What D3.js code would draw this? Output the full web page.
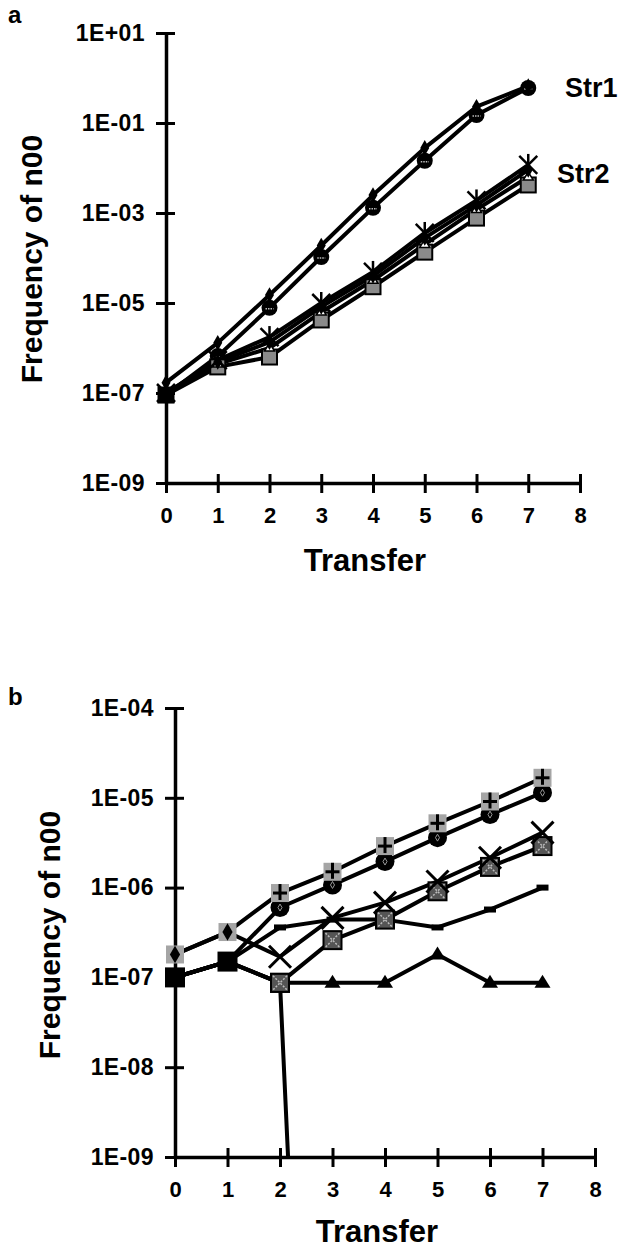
<!DOCTYPE html>
<html>
<head>
<meta charset="utf-8">
<script src="https://cdn.jsdelivr.net/npm/d3@7"></script>
<style>
body { margin: 0; background: #fff; }
text { font-family: "Liberation Sans", Arial, sans-serif; font-weight: bold; fill: #000; }
</style>
</head>
<body>
<svg id="fig" width="622" height="1256"></svg>
<script>
"use strict";

const transfers = [0, 1, 2, 3, 4, 5, 6, 7];
const xTickLabels = ["0", "1", "2", "3", "4", "5", "6", "7", "8"];
const yTicksA = ["1E+01", "1E-01", "1E-03", "1E-05", "1E-07", "1E-09"];
const yTicksB = ["1E-04", "1E-05", "1E-06", "1E-07", "1E-08", "1E-09"];

// panel a: Str1 (two lines), Str2 (four lines)
const str1Upper = [1.7e-7, 1.3e-6, 1.5e-5, 1.9e-4, 2.5e-3, 2.8e-2, 0.23, 0.66];
const str1Lower = [9e-8, 6.6e-7, 7.8e-6, 1.05e-4, 1.3e-3, 1.45e-2, 0.15, 0.6];
const str2Star = [1e-7, 5.4e-7, 1.75e-6, 1e-5, 4.9e-5, 3.6e-4, 1.9e-3, 1.17e-2];
const str2Diamond = [1e-7, 4.9e-7, 1.35e-6, 8.2e-6, 4e-5, 2.8e-4, 1.5e-3, 9.1e-3];
const str2Triangle = [1e-7, 4.4e-7, 1e-6, 6.3e-6, 3.2e-5, 2e-4, 1.2e-3, 6.3e-3];
const str2Square = [9e-8, 3.8e-7, 6.3e-7, 4.2e-6, 2.3e-5, 1.35e-4, 7.7e-4, 4.2e-3];

// panel b
const bPlus = [1.8e-7, 3.2e-7, 8.7e-7, 1.5e-6, 2.9e-6, 5.2e-6, 9.1e-6, 1.67e-5];
const bCircle = [1e-7, 1.5e-7, 6e-7, 1.07e-6, 1.95e-6, 3.6e-6, 6.5e-6, 1.14e-5];
const bCross = [1.8e-7, 3.2e-7, 1.7e-7, 4.6e-7, 6.8e-7, 1.17e-6, 2.15e-6, 4.1e-6];
const bCrossSquare = [1e-7, 1.5e-7, 8.7e-8, 2.6e-7, 4.4e-7, 9.1e-7, 1.7e-6, 2.9e-6];
const bDash = [1e-7, 1.5e-7, 3.6e-7, 4.4e-7, 4.4e-7, 3.6e-7, 5.7e-7, 1e-6];
const bTriangle = [1e-7, 1.5e-7, 8.7e-8, 8.7e-8, 8.7e-8, 1.8e-7, 8.7e-8, 8.7e-8];
const bLost = [1e-7, 1.5e-7, 8.7e-8, 2e-20, null, null, null, null];

const svg = d3.select("#fig");

function drawMarker(g, type, i) {
	if (type === "diamond") {
		g.append("path").attr("d", d3.symbol(d3.symbolDiamond, 70)()).attr("fill", "#000");
	} else if (type === "circle") {
		g.append("circle").attr("r", 8).attr("fill", "#000");
		g.append("line").attr("x1", -4).attr("x2", 4).attr("y1", 1).attr("y2", 1)
			.attr("stroke", "#bbb").attr("stroke-width", 1.5).attr("stroke-dasharray", "1.5 1");
	} else if (type === "asterisk") {
		[[-9, -9, 9, 9], [9, -9, -9, 9], [0, -11, 0, 0]].forEach(l => {
			g.append("line").attr("x1", l[0]).attr("y1", l[1]).attr("x2", l[2]).attr("y2", l[3])
				.attr("stroke", "#000").attr("stroke-width", 2.5);
		});
	} else if (type === "squareGray") {
		// first point sits under the pile-up at 1E-07 and prints black
		g.append("rect").attr("x", -7.5).attr("y", -7.5).attr("width", 15).attr("height", 15)
			.attr("fill", i === 0 ? "#000" : "#8a8a8a").attr("stroke", "#000").attr("stroke-width", 2);
	} else if (type === "triangleWhite") {
		if (i === 0) return;
		g.append("path").attr("d", "M0,-5L5,3L-5,3Z").attr("fill", "#fff").attr("stroke", "#000").attr("stroke-width", 1.5);
	} else if (type === "plusSquare") {
		g.append("rect").attr("x", -9).attr("y", -9).attr("width", 18).attr("height", 18).attr("fill", "#a5a5a5");
		if (i < 2) {
			g.append("path").attr("d", d3.symbol(d3.symbolDiamond, 90)()).attr("fill", "#000");
			return;
		}
		g.append("line").attr("x1", -7).attr("x2", 7).attr("stroke", "#000").attr("stroke-width", 3);
		g.append("line").attr("y1", -9).attr("y2", 7).attr("stroke", "#000").attr("stroke-width", 3);
	} else if (type === "circleBig") {
		if (i < 2) return;
		g.append("circle").attr("r", 9.5).attr("fill", "#000");
		g.append("path").attr("d", d3.symbol(d3.symbolDiamond, 14)()).attr("fill", "none").attr("stroke", "#999");
	} else if (type === "cross") {
		if (i < 2) return;
		[[-11, -11, 11, 11], [11, -11, -11, 11]].forEach(l => {
			g.append("line").attr("x1", l[0]).attr("y1", l[1]).attr("x2", l[2]).attr("y2", l[3])
				.attr("stroke", "#000").attr("stroke-width", 3);
		});
	} else if (type === "crossSquare") {
		if (i < 2) return;
		g.append("rect").attr("x", -9).attr("y", -9).attr("width", 18).attr("height", 18)
			.attr("fill", "#555").attr("stroke", "#000").attr("stroke-width", 2);
		[[-7, -7, 7, 7], [7, -7, -7, 7]].forEach(l => {
			g.append("line").attr("x1", l[0]).attr("y1", l[1]).attr("x2", l[2]).attr("y2", l[3])
				.attr("stroke", "#bbb").attr("stroke-width", 1.5).attr("stroke-dasharray", "2 1.5");
		});
	} else if (type === "dash") {
		if (i < 2) return;
		g.append("rect").attr("x", -6).attr("y", -3).attr("width", 12).attr("height", 6).attr("fill", "#000");
	} else if (type === "triangleBlack") {
		if (i < 2) return;
		g.append("path").attr("d", "M0,-8L8,5L-8,5Z").attr("fill", "#000");
	} else if (type === "squareBlack") {
		g.append("rect").attr("x", -10).attr("y", -10).attr("width", 20).attr("height", 20).attr("fill", "#000");
	}
}

function panel(opt) {
	const x = d3.scaleLinear().domain([0, 8]).range(opt.xRange);
	const y = d3.scaleLog().domain(opt.yDomain).range(opt.yRange);
	const g = svg.append("g");

	// axes
	const yAxis = d3.axisLeft(y)
		.tickValues(opt.yTicks.map(Number))
		.tickFormat((d, i) => opt.yTicks[i])
		.tickSizeInner(10).tickSizeOuter(0);
	const ya = g.append("g").attr("transform", `translate(${opt.xRange[0]},0)`).call(yAxis);
	ya.select(".domain").attr("stroke-width", 3.5);
	ya.selectAll(".tick line").attr("x1", 9).attr("stroke-width", 3);
	ya.selectAll(".tick text").attr("font-size", 23).attr("font-family", null)
		.attr("letter-spacing", 0.4).attr("x", -21);

	const xAxis = d3.axisBottom(x)
		.tickValues(d3.range(9))
		.tickFormat((d, i) => xTickLabels[i])
		.tickSizeInner(10).tickSizeOuter(0);
	const xa = g.append("g").attr("transform", `translate(0,${opt.yRange[0]})`).call(xAxis);
	xa.select(".domain").attr("stroke-width", 3.5);
	xa.selectAll(".tick line").attr("y1", -9).attr("stroke-width", 3);
	xa.selectAll(".tick text").attr("font-size", 22).attr("font-family", null)
		.attr("dy", null).attr("y", 40);

	// lines
	const clipId = "clip" + opt.id;
	g.append("clipPath").attr("id", clipId).append("rect")
		.attr("x", opt.xRange[0]).attr("y", opt.yRange[1] - 30)
		.attr("width", opt.xRange[1] - opt.xRange[0] + 30)
		.attr("height", opt.yRange[0] - opt.yRange[1] + 30);
	const line = d3.line()
		.defined(d => d.v != null)
		.x(d => x(d.t))
		.y(d => y(d.v));
	const lg = g.append("g").attr("clip-path", `url(#${clipId})`);
	opt.series.forEach(s => {
		lg.append("path")
			.datum(transfers.map((t, i) => ({ t: t, v: s.values[i] })))
			.attr("d", line)
			.attr("fill", "none")
			.attr("stroke", "#000")
			.attr("stroke-width", 4)
			.attr("stroke-linejoin", "round");
	});

	// markers
	opt.series.forEach(s => {
		transfers.forEach((t, i) => {
			const v = s.values[i];
			if (v == null || v < opt.yDomain[0]) return;
			const mg = g.append("g").attr("transform", `translate(${x(t)},${y(v)})`);
			drawMarker(mg, s.marker, i);
		});
	});

	// labels
	svg.append("text").attr("x", 8).attr("y", opt.letterY).attr("font-size", 24).text(opt.letter);
	svg.append("text")
		.attr("transform", `translate(${opt.titleX},${opt.titleY}) rotate(-90)`)
		.attr("text-anchor", "middle").attr("font-size", 30)
		.text("Frequency of n00");
	svg.append("text")
		.attr("x", (opt.xRange[0] + opt.xRange[1]) / 2 - 8)
		.attr("y", opt.transferY)
		.attr("text-anchor", "middle").attr("font-size", 31)
		.text("Transfer");
	return { x: x, y: y };
}

panel({
	id: "a",
	xRange: [166, 580],
	yDomain: [1e-9, 1e1],
	yRange: [483, 33],
	yTicks: yTicksA,
	letter: "a", letterY: 23,
	titleX: 42, titleY: 259,
	transferY: 571,
	series: [
		{ values: str1Lower, marker: "circle" },
		{ values: str1Upper, marker: "diamond" },
		{ values: str2Square, marker: "squareGray" },
		{ values: str2Triangle, marker: "triangleWhite" },
		{ values: str2Diamond, marker: "diamond" },
		{ values: str2Star, marker: "asterisk" }
	]
});
svg.append("text").attr("x", 565).attr("y", 97).attr("font-size", 27).text("Str1");
svg.append("text").attr("x", 557).attr("y", 183).attr("font-size", 27).text("Str2");

panel({
	id: "b",
	xRange: [175, 595],
	yDomain: [1e-9, 1e-4],
	yRange: [1157, 708],
	yTicks: yTicksB,
	letter: "b", letterY: 705,
	titleX: 60, titleY: 935,
	transferY: 1242,
	series: [
		{ values: bLost, marker: "squareBlack" },
		{ values: bTriangle, marker: "triangleBlack" },
		{ values: bDash, marker: "dash" },
		{ values: bCrossSquare, marker: "crossSquare" },
		{ values: bCircle, marker: "circleBig" },
		{ values: bCross, marker: "cross" },
		{ values: bPlus, marker: "plusSquare" }
	]
});
</script>
</body>
</html>
